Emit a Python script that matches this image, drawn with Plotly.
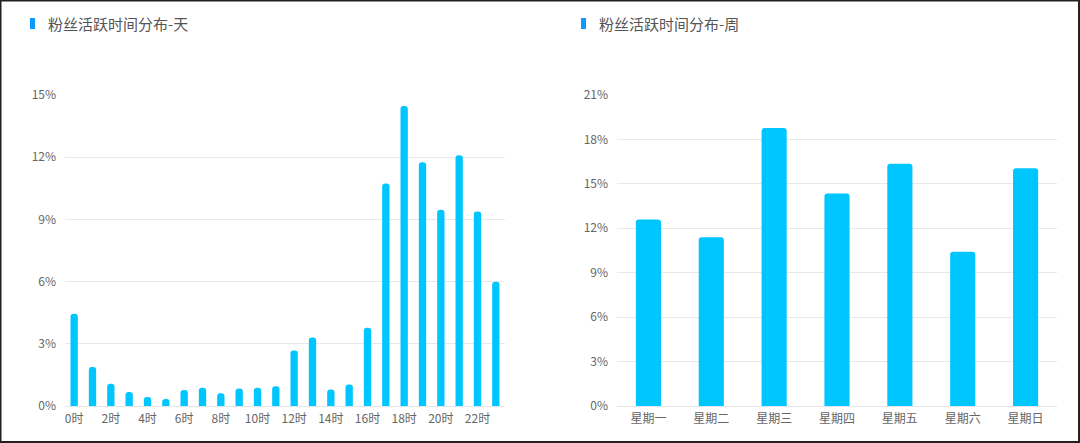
import plotly.graph_objects as go

# hourly distribution (%)
hours = [f"{h}时" for h in range(24)]
hour_share = [4.45, 1.88, 1.07, 0.67, 0.43, 0.34, 0.77, 0.88, 0.61, 0.85, 0.88, 0.95,
              2.68, 3.3, 0.8, 1.04, 3.78, 10.73, 14.47, 11.76, 9.47, 12.1, 9.38, 5.99]
hour_ticks = [f"{h}时" for h in range(0, 24, 2)]

# weekly distribution (%)
weekdays = ["星期一", "星期二", "星期三", "星期四", "星期五", "星期六", "星期日"]
week_share = [12.6, 11.4, 18.77, 14.35, 16.35, 10.42, 16.05]

titles = ["粉丝活跃时间分布-天", "粉丝活跃时间分布-周"]

bar_color = "#00C6FF"
font = "Noto Sans CJK SC"
W, H = 1080, 443

fig = go.Figure()
fig.add_trace(go.Bar(x=hours, y=hour_share, marker_color=bar_color, width=0.4,
                     marker_line_width=0, marker_cornerradius="50%",
                     xaxis="x", yaxis="y"))
fig.add_trace(go.Bar(x=weekdays, y=week_share, marker_color=bar_color, width=0.4,
                     marker_line_width=0, marker_cornerradius=3,
                     xaxis="x2", yaxis="y2"))

ydom = [37 / H, 348 / H]
axis_font = dict(family=font, size=12, color="#666666")
yax = dict(showgrid=True, gridcolor="#E8E8E8", gridwidth=1, zeroline=False,
           ticksuffix="%", tickfont=axis_font, showline=False, ticks="",
           ticklabelstandoff=8, automargin=False, fixedrange=True)
xax = dict(showgrid=False, showline=True, linecolor="#E6E6E6", linewidth=1,
           ticks="", tickfont=axis_font, ticklabelstandoff=2,
           automargin=False, fixedrange=True)

fig.update_layout(
    width=W, height=H,
    margin=dict(l=0, r=0, t=0, b=0),
    paper_bgcolor="white", plot_bgcolor="white",
    showlegend=False,
    font=dict(family=font),
    xaxis=dict(xax, domain=[65 / W, 505 / W], tickmode="array",
               tickvals=hour_ticks, ticktext=hour_ticks, anchor="y"),
    yaxis=dict(yax, domain=ydom, range=[0, 15], dtick=3, anchor="x"),
    xaxis2=dict(xax, domain=[617 / W, 1057 / W], anchor="y2"),
    yaxis2=dict(yax, domain=ydom, range=[0, 21], dtick=3, anchor="x2"),
)

# title markers and outer border
shapes = [
    dict(type="rect", xref="paper", yref="paper", x0=30 / W, x1=35 / W,
         y0=1 - 29 / H, y1=1 - 18 / H, fillcolor="#0A9BFF", line_width=0),
    dict(type="rect", xref="paper", yref="paper", x0=581 / W, x1=586 / W,
         y0=1 - 29 / H, y1=1 - 18 / H, fillcolor="#0A9BFF", line_width=0),
    dict(type="rect", xref="paper", yref="paper", x0=0.5 / W, x1=1 - 1 / W,
         y0=1 / H, y1=1 - 0.5 / H, line=dict(color="#222", width=2)),
]
fig.update_layout(shapes=shapes)

for xpos, title in zip([46, 597], titles):
    fig.add_annotation(x=xpos / W, y=1 - 24 / H, xref="paper", yref="paper",
                       text=title, showarrow=False, xanchor="left", yanchor="middle",
                       font=dict(family=font, size=15, color="#555"))

# drop the browser's default body margin so the figure fills the window
fig.write_html("out.html",
               config={"displayModeBar": False},
               post_script="document.body.style.margin='0';"
                           "document.body.style.overflow='hidden';")
